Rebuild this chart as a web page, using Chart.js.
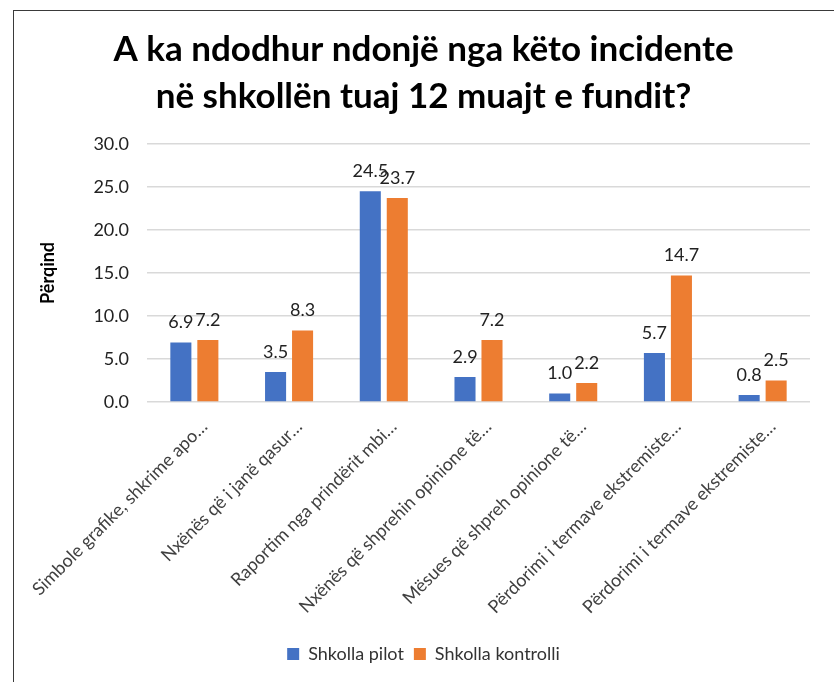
<!DOCTYPE html>
<html>
<head>
<meta charset="utf-8">
<script src="https://cdn.jsdelivr.net/npm/chart.js@4/dist/chart.umd.min.js"></script>
<style>
  html, body { margin: 0; padding: 0; background: #fff; overflow: hidden; }
  #frame { position: absolute; left: 13px; top: 10px; width: 900px; height: 760px; border: 1.5px solid #3a3a3a; }
  #wrap { position: absolute; left: 0; top: 0; width: 834px; height: 682px; }
</style>
</head>
<body>
<div id="frame"></div>
<div id="wrap"><canvas id="chart"></canvas></div>
<script>
// Kategorite (te shkurtuara si ne grafik)
const categories = [
  'Simbole grafike, shkrime apo…',
  'Nxënës që i janë qasur…',
  'Raportim nga prindërit mbi…',
  'Nxënës që shprehin opinione të…',
  'Mësues që shpreh opinione të…',
  'Përdorimi i termave ekstremiste…',
  'Përdorimi i termave ekstremiste…'
];
const pilotValues = [6.9, 3.5, 24.5, 2.9, 1.0, 5.7, 0.8];
const kontrolliValues = [7.2, 8.3, 23.7, 7.2, 2.2, 14.7, 2.5];
const yTicks = [0, 5, 10, 15, 20, 25, 30];
const titleLines = ['A ka ndodhur ndonjë nga këto incidente', 'në shkollën tuaj 12 muajt e fundit?'];

const FONT = 'Lato, "Open Sans", sans-serif';

// vlerat mbi shtyllat
const valueLabels = {
  id: 'valueLabels',
  afterDatasetsDraw(chart) {
    const ctx = chart.ctx;
    ctx.save();
    ctx.font = '18px ' + FONT;
    ctx.fillStyle = '#222';
    ctx.textAlign = 'center';
    ctx.textBaseline = 'middle';
    chart.data.datasets.forEach((ds, i) => {
      chart.getDatasetMeta(i).data.forEach((bar, j) => {
        ctx.fillText(ds.data[j].toFixed(1), bar.x, bar.y - 20);
      });
    });
    ctx.restore();
  }
};

new Chart(document.getElementById('chart'), {
  type: 'bar',
  data: {
    labels: categories,
    datasets: [
      { label: 'Shkolla pilot', data: pilotValues, backgroundColor: '#4472C4' },
      { label: 'Shkolla kontrolli', data: kontrolliValues, backgroundColor: '#ED7D31' }
    ]
  },
  options: {
    responsive: true,
    maintainAspectRatio: false,
    animation: false,
    categoryPercentage: 0.57,
    barPercentage: 0.78,
    layout: { padding: { left: 37, right: 24, top: 0, bottom: 9 } },
    plugins: {
      title: {
        display: true,
        text: titleLines,
        color: '#000',
        font: { family: FONT, size: 35, weight: 'bold', lineHeight: 1.34 },
        padding: { top: 26, bottom: 24 }
      },
      legend: {
        position: 'bottom',
        labels: {
          color: '#333',
          font: { family: FONT, size: 18 },
          boxWidth: 12,
          boxHeight: 12,
          padding: 10
        }
      },
      tooltip: { enabled: false }
    },
    scales: {
      x: {
        grid: { display: false },
        border: { display: false },
        afterFit(scale) { scale.height = 233; },
        ticks: {
          color: '#404040',
          font: { family: FONT, size: 18 },
          minRotation: 45,
          maxRotation: 45,
          labelOffset: 10,
          padding: 6,
          autoSkip: false
        }
      },
      y: {
        min: 0,
        max: 30,
        afterBuildTicks(axis) { axis.ticks = yTicks.map(v => ({ value: v })); },
        afterFit(scale) { scale.width = 110; },
        grid: { color: '#d9d9d9', lineWidth: 1.5, drawTicks: false },
        border: { display: false },
        ticks: {
          color: '#222',
          padding: 18,
          font: { family: FONT, size: 18 },
          callback: v => v.toFixed(1)
        },
        title: {
          display: true,
          text: 'Përqind',
          color: '#000',
          font: { family: FONT, size: 18, weight: 'bold' },
          padding: { top: 0, bottom: 0 }
        }
      }
    }
  },
  plugins: [valueLabels]
});
</script>
</body>
</html>
